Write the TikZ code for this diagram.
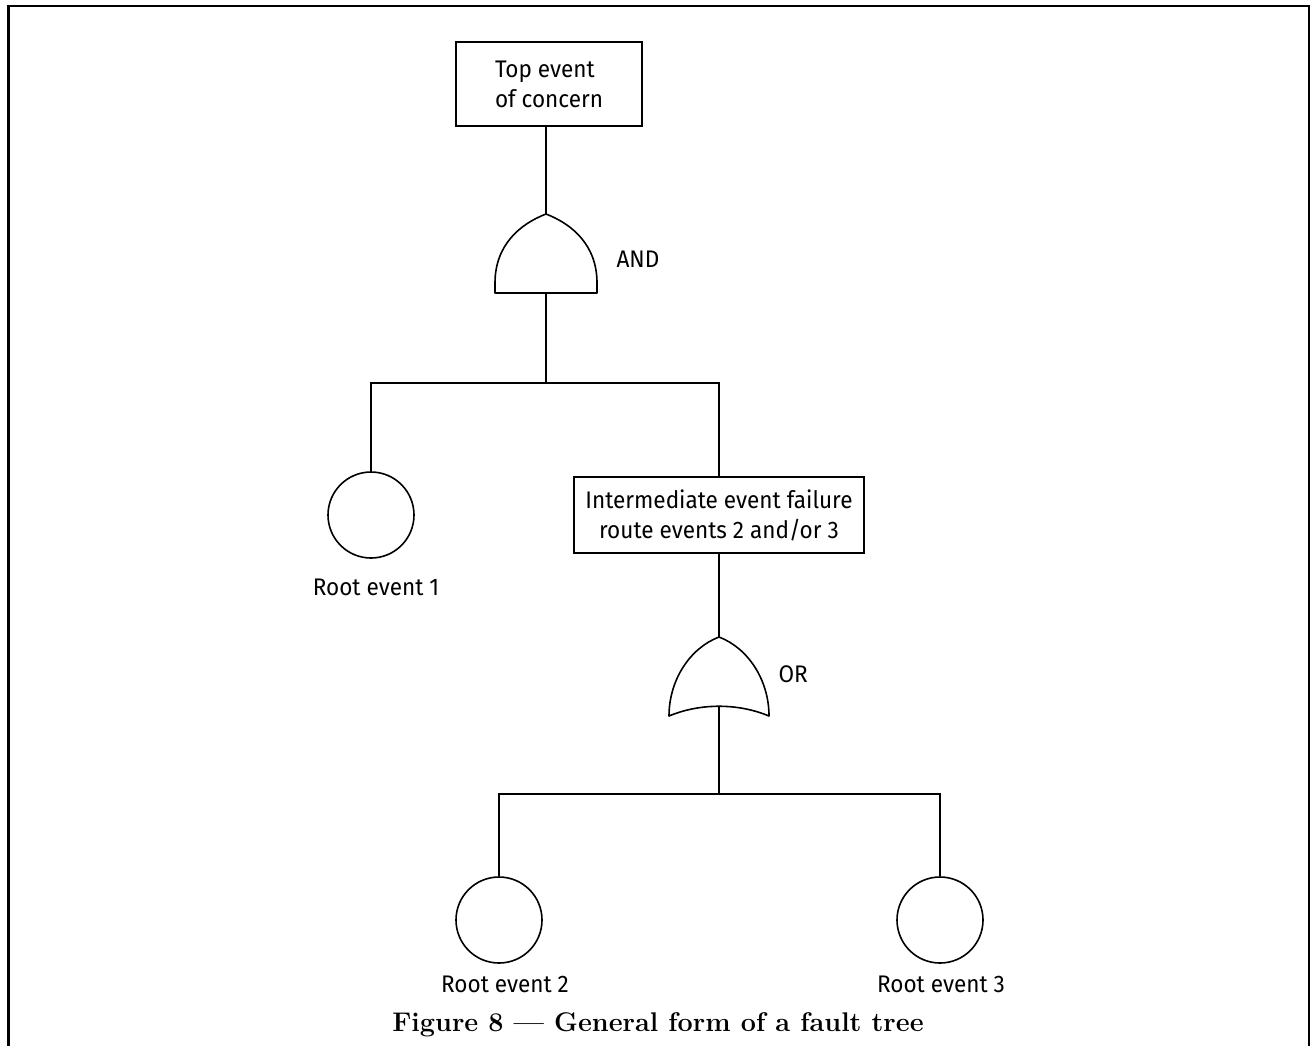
\documentclass[tikz,border=0pt]{standalone}
\usepackage{fontspec}
\newfontfamily\diafont{Fira Sans}[FakeStretch=0.94]
\begin{document}
\begin{tikzpicture}[x=1pt,y=-1pt,
  every node/.style={font=\diafont\fontsize{24}{30}\selectfont},
  evbox/.style={draw, line width=1.6pt, inner sep=0pt},
  rootev/.style={draw, circle, minimum size=86pt, inner sep=0pt, line width=1.6pt},
  wire/.style={line width=1.6pt},
  gate/.style={line width=1.6pt, line join=round},
  lbl/.style={anchor=base},
  caption/.style={font=\bfseries\fontsize{27}{32}\selectfont, anchor=base}]
\useasboundingbox (0,0) rectangle (1316,1045);
% page frame, open at the bottom
\draw[line width=2.2pt] (8.5,1050) -- (8.5,6) -- (1309,6) -- (1309,1050);

% events
\node[evbox, minimum width=186pt, minimum height=84pt, align=left] (top) at (549,84) {Top event\\of concern};
\node[evbox, minimum width=290pt, minimum height=76pt, align=center] (mid) at (719,515) {Intermediate event failure\\route events 2 and/or 3};
\node[rootev] (re1) at (371,515) {};
\node[rootev] (re2) at (499,920) {};
\node[rootev] (re3) at (940,920) {};
\node[lbl] (re1lbl) at (376,595) {Root event 1};
\node[lbl] (re2lbl) at (505,992) {Root event 2};
\node[lbl] (re3lbl) at (941,992) {Root event 3};

% AND gate
\coordinate (andin) at (546,214);
\coordinate (andout) at (546,293);
\draw[gate] (495,293) -- (495,283) .. controls (495,245) and (520,224) .. (andin)
  .. controls (572,224) and (597,245) .. (597,283) -- (597,293) -- cycle;
\node[anchor=base west] (andlbl) at (613,267) {AND};

% OR gate
\coordinate (orin) at (719,637);
\coordinate (orout) at (719,706);
\draw[gate] (669,716) .. controls (669,680) and (690,648) .. (orin)
  .. controls (748,648) and (769,680) .. (769,716)
  .. controls (738,703) and (700,703) .. cycle;
\node[anchor=base west] (orlbl) at (775,682) {OR};

% branch points
\coordinate (j1) at (546,383);
\coordinate (j2) at (719,794);

% connectors
\draw[wire] (andin |- top.south) -- (andin);
\draw[wire] (andout) -- (j1);
\draw[wire] (re1.north) |- (j1) -| (mid.north);
\draw[wire] (mid.south) -- (orin);
\draw[wire] (orout) -- (j2);
\draw[wire] (re2.north) |- (j2) -| (re3.north);

% caption
\node[caption] (cap) at (658,1031) {Figure 8 --- General form of a fault tree};
\end{tikzpicture}
\end{document}
